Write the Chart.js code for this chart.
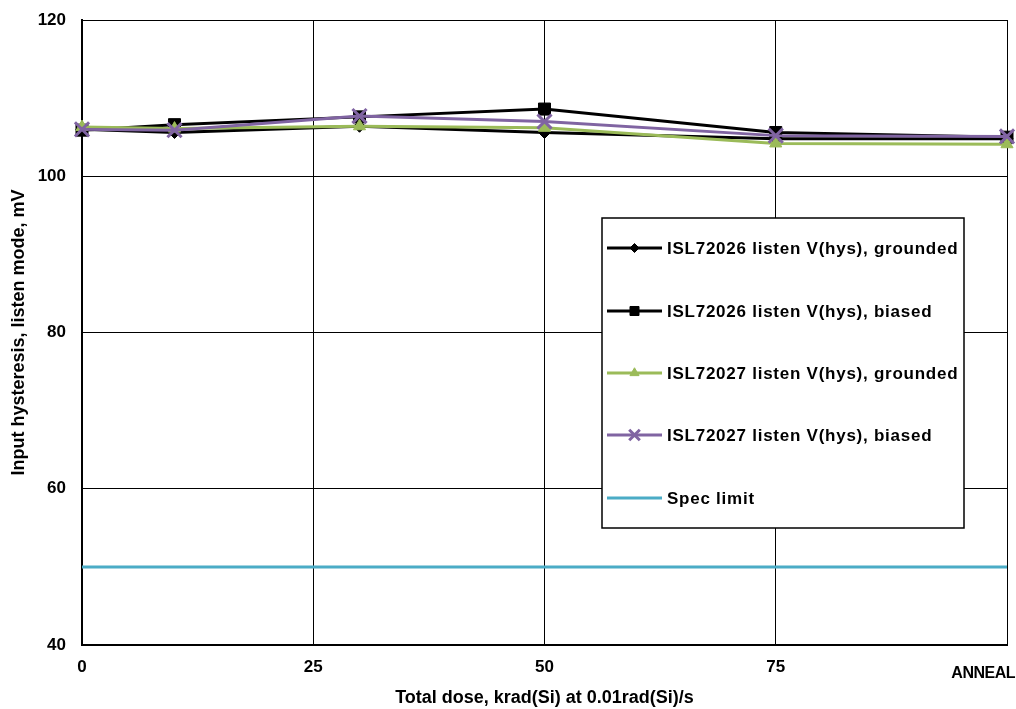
<!DOCTYPE html>
<html>
<head>
<meta charset="utf-8">
<script src="https://cdn.jsdelivr.net/npm/chart.js@4.4.1/dist/chart.umd.min.js"></script>
<style>
  html, body { margin: 0; padding: 0; background: #fff; }
  #wrap { width: 1016px; height: 709px; position: relative; }
</style>
</head>
<body>
<div id="wrap"><canvas id="c" width="1016" height="709"></canvas></div>
<script>
const doses = [0, 10, 30, 50, 75, 100];
const isl72026Grounded = [106.0, 105.6, 106.4, 105.6, 104.8, 104.8];
const isl72026Biased   = [105.9, 106.6, 107.6, 108.6, 105.6, 105.0];
const isl72027Grounded = [106.3, 106.1, 106.4, 106.2, 104.2, 104.1];
const isl72027Biased   = [106.0, 105.9, 107.7, 107.0, 105.2, 105.1];
const specDoses = [0, 100];
const specLimit = [50, 50];
const seriesNames = [
  'ISL72026 listen V(hys), grounded',
  'ISL72026 listen V(hys), biased',
  'ISL72027 listen V(hys), grounded',
  'ISL72027 listen V(hys), biased',
  'Spec limit'
];
const xTickValues = [0, 25, 50, 75, 100];
const xTickLabels = ['0', '25', '50', '75', 'ANNEAL'];
const yTickValues = [40, 60, 80, 100, 120];
const xTitle = 'Total dose, krad(Si) at 0.01rad(Si)/s';
const yTitle = 'Input hysteresis, listen mode, mV';

const FONT = '"Liberation Sans", Arial, sans-serif';
const pts = (xs, ys) => xs.map((x, i) => ({ x: x, y: ys[i] }));

const styles = [
  { color: '#000000', pointStyle: 'rectRot', radius: 6, bw: 1, order: 5 },
  { color: '#000000', pointStyle: 'rect', radius: 8.5, bw: 1, order: 4 },
  { color: '#9BBB59', pointStyle: 'triangle', radius: 7, bw: 1, order: 3 },
  { color: '#8064A2', pointStyle: 'crossRot', radius: 10, bw: 3, order: 2 },
  { color: '#4BACC6', pointStyle: false, radius: 0, bw: 0, order: 1 }
];
const seriesData = [
  pts(doses, isl72026Grounded),
  pts(doses, isl72026Biased),
  pts(doses, isl72027Grounded),
  pts(doses, isl72027Biased),
  pts(specDoses, specLimit)
];

const datasets = seriesNames.map((name, i) => ({
  label: name,
  data: seriesData[i],
  borderColor: styles[i].color,
  backgroundColor: styles[i].color,
  borderWidth: 3,
  pointStyle: styles[i].pointStyle,
  pointRadius: styles[i].radius,
  pointBorderWidth: styles[i].bw,
  pointBorderColor: styles[i].color,
  pointBackgroundColor: styles[i].color,
  order: styles[i].order,
  tension: 0,
  fill: false,
  clip: false
}));

const customLegend = {
  id: 'customLegend',
  afterDraw(chart) {
    const ctx = chart.ctx;
    const a = chart.chartArea;
    const bx = a.left + 520, by = a.top + 198, bw = 362, bh = 310;
    ctx.save();
    ctx.fillStyle = '#fff';
    ctx.fillRect(bx, by, bw, bh);
    ctx.strokeStyle = '#000';
    ctx.lineWidth = 1.5;
    ctx.strokeRect(bx, by, bw, bh);
    const rowY = [30, 93, 155, 217, 280];
    seriesNames.forEach((name, i) => {
      const y = by + rowY[i];
      const x0 = bx + 5, x1 = bx + 60;
      ctx.strokeStyle = styles[i].color;
      ctx.fillStyle = styles[i].color;
      ctx.lineWidth = 3;
      ctx.beginPath(); ctx.moveTo(x0, y); ctx.lineTo(x1, y); ctx.stroke();
      if (styles[i].pointStyle) {
        ctx.lineWidth = styles[i].bw;
        Chart.helpers.drawPoint(ctx, {
          pointStyle: styles[i].pointStyle,
          radius: styles[i].radius * 0.75,
          borderWidth: styles[i].bw,
          rotation: 0
        }, (x0 + x1) / 2, y);
      }
      ctx.fillStyle = '#000';
      ctx.font = 'bold 17px ' + FONT;
      if ('letterSpacing' in ctx) ctx.letterSpacing = '0.75px';
      ctx.textBaseline = 'middle';
      ctx.textAlign = 'left';
      ctx.fillText(name, bx + 65, y + 1);
    });
    // ANNEAL label for the last tick
    ctx.fillStyle = '#000';
    ctx.font = 'bold 16px ' + FONT;
    if ('letterSpacing' in ctx) ctx.letterSpacing = '-0.5px';
    ctx.textAlign = 'right';
    ctx.textBaseline = 'middle';
    const xs = chart.scales.x;
    ctx.fillText(xTickLabels[xTickLabels.length - 1], xs.getPixelForValue(100) + 8, a.bottom + 29);
    ctx.restore();
  }
};

new Chart(document.getElementById('c'), {
  type: 'line',
  data: { datasets: datasets },
  options: {
    responsive: false,
    animation: false,
    layout: { autoPadding: false, padding: { top: 20, right: 9, left: 0, bottom: 0 } },
    plugins: { legend: { display: false }, tooltip: { enabled: false } },
    scales: {
      x: {
        type: 'linear',
        min: 0, max: 100,
        afterBuildTicks(scale) { scale.ticks = xTickValues.map(v => ({ value: v })); },
        afterFit(scale) { scale.height = 64; scale.paddingLeft = 0; scale.paddingRight = 0; },
        ticks: {
          autoSkip: false,
          maxRotation: 0,
          padding: 12,
          color: '#000',
          font: { family: FONT, size: 17, weight: 'bold' },
          callback: (v) => { const i = xTickValues.indexOf(v); return i >= 0 && i < xTickValues.length - 1 ? xTickLabels[i] : ''; }
        },
        grid: { color: '#000', lineWidth: 1, drawTicks: false },
        border: { display: true, color: '#000', width: 2 },
        title: {
          display: true, text: xTitle, color: '#000',
          font: { family: FONT, size: 18, weight: 'bold' },
          padding: { top: 0, bottom: 0 }
        }
      },
      y: {
        type: 'linear',
        min: 40, max: 120,
        afterBuildTicks(scale) { scale.ticks = yTickValues.map(v => ({ value: v })); },
        afterFit(scale) { scale.width = 82; scale.paddingTop = 0; scale.paddingBottom = 0; },
        ticks: {
          padding: 16,
          color: '#000',
          font: { family: FONT, size: 17, weight: 'bold' }
        },
        grid: { color: '#000', lineWidth: 1, drawTicks: false },
        border: { display: true, color: '#000', width: 2 },
        title: {
          display: true, text: yTitle, color: '#000',
          font: { family: FONT, size: 18, weight: 'bold' },
          padding: { top: 8, bottom: 0 }
        }
      }
    }
  },
  plugins: [customLegend]
});
</script>
</body>
</html>
